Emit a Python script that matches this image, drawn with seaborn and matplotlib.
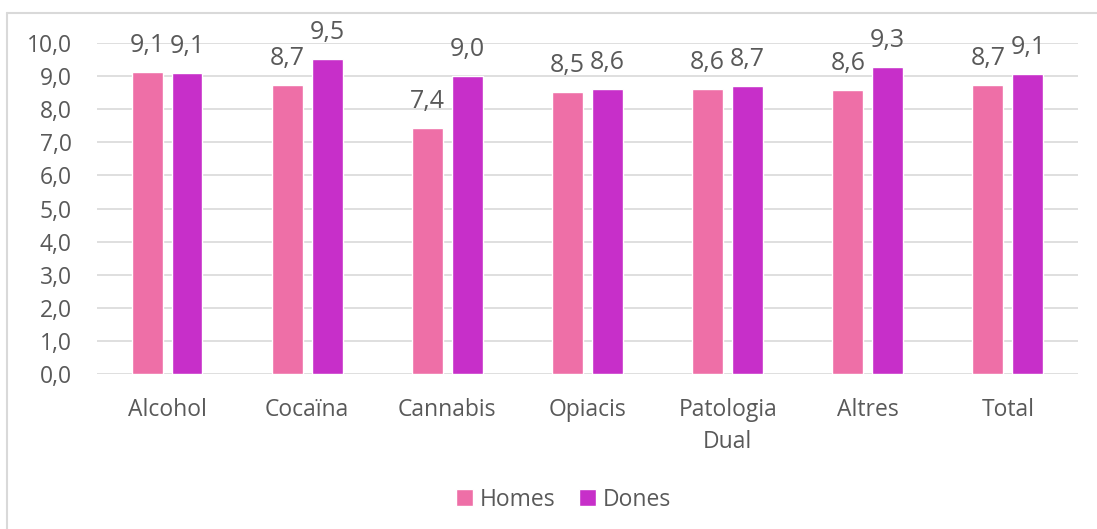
import pandas as pd
import matplotlib.pyplot as plt
import seaborn as sns
from matplotlib.lines import Line2D

# Data
categories = ["Alcohol", "Cocaïna", "Cannabis", "Opiacis", "Patologia\nDual", "Altres", "Total"]
homes = [9.12, 8.73, 7.43, 8.52, 8.61, 8.58, 8.73]
dones = [9.09, 9.53, 9.01, 8.61, 8.70, 9.27, 9.06]
series = ["Homes", "Dones"]
colors = ["#EE6FA7", "#C72FC9"]

df = pd.DataFrame({
    "Categoria": categories * 2,
    "Sexe": [series[0]] * len(categories) + [series[1]] * len(categories),
    "Valor": homes + dones,
})

sns.set_theme(style="white")
plt.rcParams["font.family"] = ["Open Sans", "DejaVu Sans"]
text_color = "#595959"

fig = plt.figure(figsize=(10.97, 5.29), dpi=100)
ax = fig.add_axes([0.0884, 0.293, 0.8943, 0.6257])

sns.barplot(data=df, x="Categoria", y="Valor", hue="Sexe", palette=colors,
            width=0.57, gap=0.225, ax=ax, saturation=1)

# Value labels
for cont in ax.containers:
    ax.bar_label(cont, labels=[f"{v:.1f}".replace(".", ",") for v in cont.datavalues],
                 padding=10, fontsize=18, color=text_color)

ax.set_ylim(0, 10)
ax.set_yticks(range(0, 11))
ax.set_yticklabels([f"{v},0" for v in range(0, 11)])
ax.yaxis.grid(True, color="#D9D9D9", linewidth=1.2)
ax.set_axisbelow(True)
for s in ax.spines.values():
    s.set_visible(False)
ax.tick_params(axis="both", length=0, labelsize=16.5, colors=text_color)
ax.tick_params(axis="x", pad=17)
ax.tick_params(axis="y", pad=18)
for lbl in ax.get_xticklabels():
    lbl.set_linespacing(1.45)
ax.set_xlabel("")
ax.set_ylabel("")

# Legend at the bottom
ax.legend(loc="center", bbox_to_anchor=(0.4755, -0.38), ncol=2, frameon=False,
          fontsize=16.5, handlelength=0.75, handleheight=0.75, handletextpad=0.3,
          columnspacing=1.0, labelcolor=text_color)

# Chart border (top and left edges visible)
fig.add_artist(Line2D([7 / 1097, 7 / 1097], [0, 1 - 13 / 529], color="#D9D9D9",
                      linewidth=1.5, transform=fig.transFigure))
fig.add_artist(Line2D([7 / 1097, 1], [1 - 13 / 529, 1 - 13 / 529], color="#D9D9D9",
                      linewidth=1.5, transform=fig.transFigure))

plt.savefig("out.png", dpi=100)
